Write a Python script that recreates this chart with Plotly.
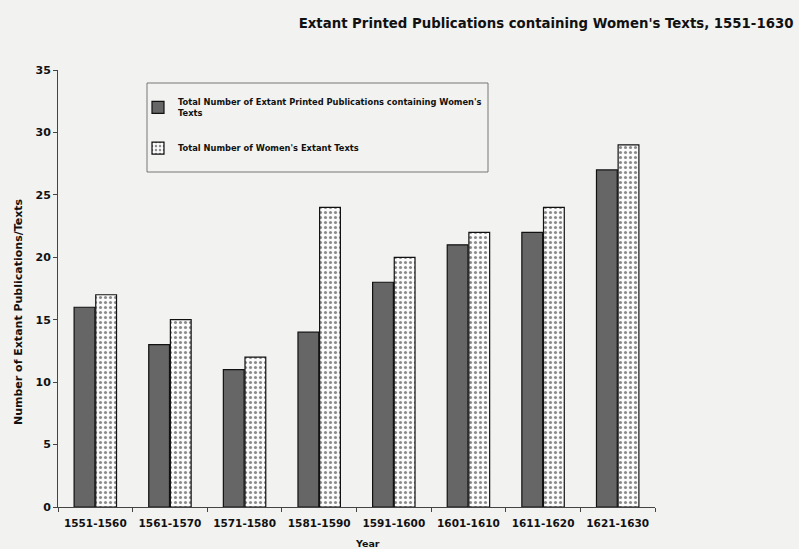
import plotly.graph_objects as go

decades = ["1551-1560", "1561-1570", "1571-1580", "1581-1590",
           "1591-1600", "1601-1610", "1611-1620", "1621-1630"]
publications = [16, 13, 11, 14, 18, 21, 22, 27]
womens_texts = [17, 15, 12, 24, 20, 22, 24, 29]

FONT = "DejaVu Sans, Verdana, sans-serif"
BG = "#f2f2f0"

# plot area in pixels
L, R, T, B = 58, 655, 70, 507
W, H = 799, 549


def px_x(p):
    return (p - L) / (R - L)


def px_y(p):
    return (B - p) / (B - T)


fig = go.Figure()
fig.add_trace(go.Bar(
    x=decades, y=publications,
    name="Total Number of Extant Printed Publications containing Women's<br>Texts",
    legendgroup="pub",
    marker=dict(color="#666666", line=dict(color="#111111", width=1.2)),
))
fig.add_trace(go.Bar(
    x=decades, y=womens_texts,
    name="Total Number of Women's Extant Texts",
    legendgroup="txt",
    marker=dict(color="#fbfbfb", line=dict(color="#111111", width=1.2),
                pattern=dict(shape=".", fgcolor="#1a1a1a", bgcolor="#fbfbfb",
                             size=5, solidity=0.3)),
))

# legend frame
fig.add_shape(type="rect", xref="paper", yref="paper",
              x0=px_x(147), x1=px_x(488), y0=px_y(172), y1=px_y(83),
              line=dict(color="#777777", width=1), fillcolor=BG, layer="below")

# axis titles
fig.add_annotation(text="<b>Year</b>", xref="paper", yref="paper",
                   x=px_x(367), y=px_y(543), xanchor="center", yanchor="middle",
                   showarrow=False, font=dict(size=9.5, family=FONT))
fig.add_annotation(text="<b>Number of Extant Publications/Texts</b>",
                   xref="paper", yref="paper", textangle=-90,
                   x=px_x(18), y=px_y(312), xanchor="center", yanchor="middle",
                   showarrow=False, font=dict(size=11, family=FONT))

fig.update_layout(
    width=W, height=H,
    paper_bgcolor=BG, plot_bgcolor=BG,
    margin=dict(l=L, r=W - R, t=T, b=H - B),
    barmode="group", bargap=0.42, bargroupgap=0.04,
    font=dict(family=FONT, size=10, color="#111111"),
    title=dict(text="<b>Extant Printed Publications containing Women's Texts, 1551-1630</b>",
               x=0.993, xanchor="right", y=0.958, yanchor="middle",
               font=dict(size=13.3, family=FONT)),
    legend=dict(x=px_x(138), y=px_y(90), xanchor="left", yanchor="top",
                bgcolor="rgba(0,0,0,0)", borderwidth=0,
                font=dict(size=8.3, family=FONT, weight="bold"),
                traceorder="grouped", tracegroupgap=19),
    showlegend=True,
)
fig.update_xaxes(
    automargin=False,
    showline=True, linecolor="#444444", linewidth=1,
    ticks="outside", tickson="boundaries", ticklen=4, tickcolor="#444444",
    ticklabelstandoff=6,
    tickfont=dict(size=10.5, family=FONT, weight="bold"),
    showgrid=False,
)
fig.update_yaxes(
    automargin=False,
    range=[0, 35], dtick=5,
    showline=True, linecolor="#444444", linewidth=1,
    ticks="outside", ticklen=4, tickcolor="#444444",
    tickfont=dict(size=11, family=FONT, weight="bold"),
    showgrid=False, zeroline=False,
)

fig.write_html("out.html")
